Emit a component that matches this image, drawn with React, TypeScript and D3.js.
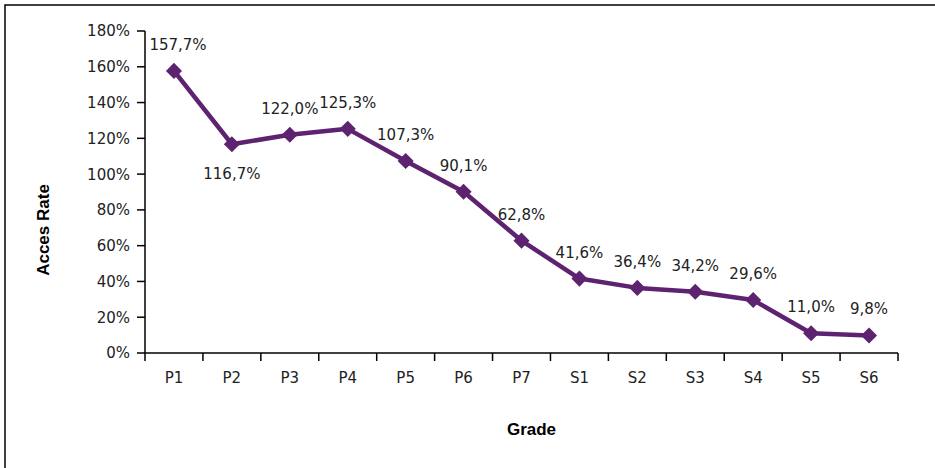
import React from "react";
import * as d3 from "d3";

const grades = ["P1", "P2", "P3", "P4", "P5", "P6", "P7", "S1", "S2", "S3", "S4", "S5", "S6"];
const accessRate = [157.7, 116.7, 122.0, 125.3, 107.3, 90.1, 62.8, 41.6, 36.4, 34.2, 29.6, 11.0, 9.8];
const yTicks = [0, 20, 40, 60, 80, 100, 120, 140, 160, 180];
// labels Excel put under the point instead of above it
const labelsBelow = ["P2"];

const WIDTH = 935;
const HEIGHT = 468;
const PURPLE = "#5e2370";
const FONT = "'DejaVu Sans', sans-serif";

const fmt = (v: number) => v.toFixed(1).replace(".", ",") + "%";

const App = () => {
    const x = d3.scaleBand<string>().domain(grades).range([145, 898]);
    const y = d3.scaleLinear().domain([0, 180]).range([353, 31]);

    const cx = (g: string) => (x(g) as number) + x.bandwidth() / 2;

    const line = d3
        .line<number>()
        .x((_, i) => cx(grades[i]))
        .y((d) => y(d));

    const diamond = d3.symbol().type(d3.symbolDiamond2).size(165)();

    const boundaries = grades.map((g) => x(g) as number).concat([898]);

    return (
        <svg
            width={WIDTH}
            height={HEIGHT}
            style={{position: "absolute", left: 0, top: 0}}
        >
            <rect x={5} y={5} width={WIDTH + 10} height={HEIGHT + 10} fill="white" stroke="#000" strokeWidth={1.5} />

            {/* y axis */}
            <line x1={145} x2={145} y1={y(180)} y2={y(0)} stroke="#000" strokeWidth={1.5} />
            {yTicks.map((t) => (
                <g key={t}>
                    <line x1={137} x2={145} y1={y(t)} y2={y(t)} stroke="#000" strokeWidth={1.5} />
                    <text
                        x={130}
                        y={y(t)}
                        dy="0.36em"
                        textAnchor="end"
                        fontSize={15}
                        fontFamily={FONT}
                        fill="#222"
                    >
                        {t + "%"}
                    </text>
                </g>
            ))}

            {/* x axis */}
            <line x1={145} x2={898} y1={y(0)} y2={y(0)} stroke="#000" strokeWidth={1.5} />
            {boundaries.map((b, i) => (
                <line key={i} x1={b} x2={b} y1={y(0)} y2={y(0) + 8} stroke="#000" strokeWidth={1.5} />
            ))}
            {grades.map((g) => (
                <text key={g} x={cx(g)} y={383} textAnchor="middle" fontSize={15} fontFamily={FONT} fill="#222">
                    {g}
                </text>
            ))}

            {/* series */}
            <path d={line(accessRate) ?? ""} fill="none" stroke={PURPLE} strokeWidth={4.5} strokeLinejoin="round" />
            {accessRate.map((v, i) => (
                <path key={i} d={diamond ?? ""} transform={`translate(${cx(grades[i])},${y(v)})`} fill={PURPLE} />
            ))}
            {accessRate.map((v, i) => {
                const below = labelsBelow.includes(grades[i]);
                // keep the label clear of the y axis
                const lx = Math.max(cx(grades[i]), 145 + 33);
                return (
                    <text
                        key={i}
                        x={lx}
                        y={y(v) + (below ? 35 : -21)}
                        textAnchor="middle"
                        fontSize={15}
                        fontFamily={FONT}
                        fill="#222"
                    >
                        {fmt(v)}
                    </text>
                );
            })}

            {/* titles */}
            <text
                transform="translate(49,230) rotate(-90)"
                textAnchor="middle"
                fontSize={17}
                fontWeight="bold"
                fontFamily="'Liberation Sans', Arial, sans-serif"
            >
                Acces Rate
            </text>
            <text
                x={531.5}
                y={435}
                textAnchor="middle"
                fontSize={17}
                fontWeight="bold"
                fontFamily="'Liberation Sans', Arial, sans-serif"
            >
                Grade
            </text>
        </svg>
    );
};

export default App;
